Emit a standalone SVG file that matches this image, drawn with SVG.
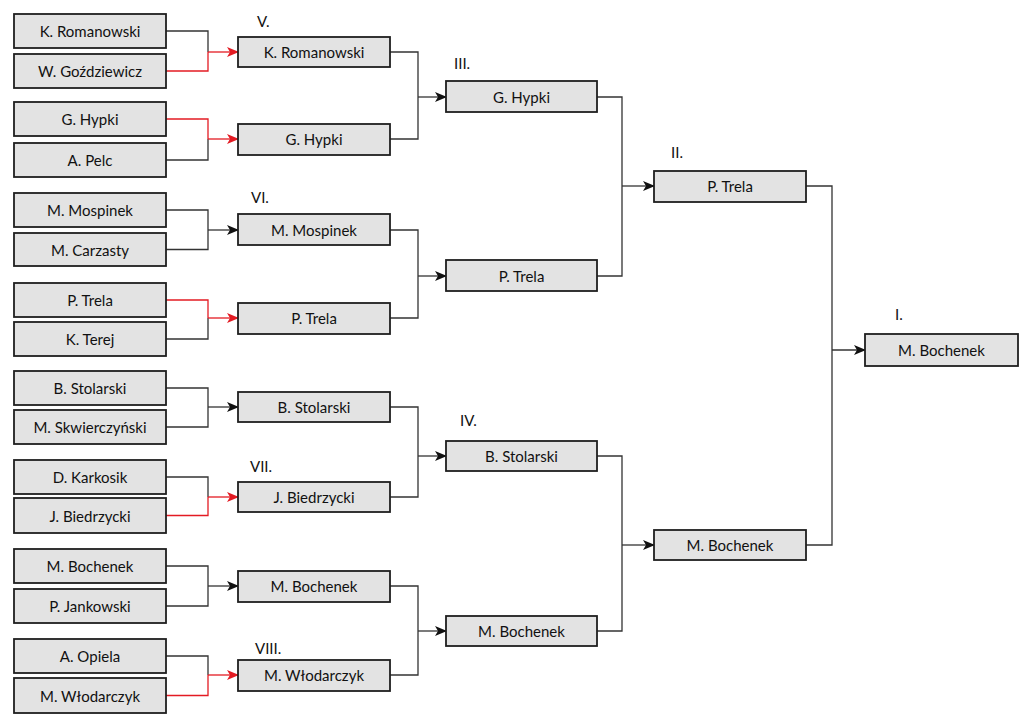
<svg xmlns="http://www.w3.org/2000/svg" width="1019" height="714" viewBox="0 0 1019 714">
<style>
.box rect{fill:#e3e3e3;stroke:#1e1e1e;stroke-width:1.8}
.box text{font-family:Lato,"Liberation Sans",Arial,sans-serif;font-size:15px;fill:#111;text-anchor:middle;dominant-baseline:central}
.lbl{font-family:Lato,"Liberation Sans",Arial,sans-serif;font-size:15px;fill:#111}
.c{fill:none;stroke:#333;stroke-width:1.3}
.r{fill:none;stroke:#e31b23;stroke-width:1.3}
.a{marker-end:url(#ab)}
.ar{marker-end:url(#ar)}
</style>
<defs>
<marker id="ab" markerWidth="12" markerHeight="10" refX="11" refY="5" orient="auto" markerUnits="userSpaceOnUse"><path d="M0,0 L12,5 L0,10 L3,5 z" fill="#111"/></marker>
<marker id="ar" markerWidth="12" markerHeight="10" refX="11" refY="5" orient="auto" markerUnits="userSpaceOnUse"><path d="M0,0 L12,5 L0,10 L3,5 z" fill="#e31b23"/></marker>
</defs>
<rect width="1019" height="714" fill="#fff"/>
<g id="connectors">
<path class="c" d="M166,31 H208 V52"/><path class="r" d="M166,71 H208 V52"/><path class="r ar" d="M208,52 H238"/>
<path class="r" d="M166,119 H208 V139"/><path class="c" d="M166,160 H208 V139"/><path class="r ar" d="M208,139 H238"/>
<path class="c" d="M166,210 H208 V249.5 H166"/><path class="c a" d="M208,230 H238"/>
<path class="r" d="M166,300 H208 V318"/><path class="c" d="M166,339 H208 V318"/><path class="r ar" d="M208,318 H238"/>
<path class="c" d="M166,388 H208 V427 H166"/><path class="c a" d="M208,407 H238"/>
<path class="c" d="M166,477 H208 V497"/><path class="r" d="M166,515.5 H208 V497"/><path class="r ar" d="M208,497 H238"/>
<path class="c" d="M166,566 H208 V606 H166"/><path class="c a" d="M208,586 H238"/>
<path class="c" d="M166,656 H208 V675"/><path class="r" d="M166,695.5 H208 V675"/><path class="r ar" d="M208,675 H238"/>
<path class="c" d="M390,52 H418 V139 H390"/><path class="c a" d="M418,97 H446"/>
<path class="c" d="M390,230 H418 V318 H390"/><path class="c a" d="M418,276 H446"/>
<path class="c" d="M390,407 H418 V497 H390"/><path class="c a" d="M418,456 H446"/>
<path class="c" d="M390,586 H418 V675 H390"/><path class="c a" d="M418,631 H446"/>
<path class="c" d="M597,97 H622 V276 H597"/><path class="c a" d="M622,186 H654"/>
<path class="c" d="M597,456 H622 V631 H597"/><path class="c a" d="M622,545 H654"/>
<path class="c" d="M806,186 H832 V545 H806"/><path class="c a" d="M832,350 H865"/>
</g>
<g id="r1-1" class="box"><rect x="14" y="14" width="152" height="34"/><text x="90" y="31">K. Romanowski</text></g>
<g id="r1-2" class="box"><rect x="14" y="54" width="152" height="34"/><text x="90" y="71">W. Goździewicz</text></g>
<g id="r1-3" class="box"><rect x="14" y="102" width="152" height="34"/><text x="90" y="119">G. Hypki</text></g>
<g id="r1-4" class="box"><rect x="14" y="143" width="152" height="34"/><text x="90" y="160">A. Pelc</text></g>
<g id="r1-5" class="box"><rect x="14" y="193" width="152" height="34"/><text x="90" y="210">M. Mospinek</text></g>
<g id="r1-6" class="box"><rect x="14" y="233" width="152" height="33"/><text x="90" y="249.5">M. Carzasty</text></g>
<g id="r1-7" class="box"><rect x="14" y="283" width="152" height="34"/><text x="90" y="300">P. Trela</text></g>
<g id="r1-8" class="box"><rect x="14" y="322" width="152" height="34"/><text x="90" y="339">K. Terej</text></g>
<g id="r1-9" class="box"><rect x="14" y="371" width="152" height="34"/><text x="90" y="388">B. Stolarski</text></g>
<g id="r1-10" class="box"><rect x="14" y="410" width="152" height="34"/><text x="90" y="427">M. Skwierczyński</text></g>
<g id="r1-11" class="box"><rect x="14" y="460" width="152" height="34"/><text x="90" y="477">D. Karkosik</text></g>
<g id="r1-12" class="box"><rect x="14" y="498" width="152" height="35"/><text x="90" y="515.5">J. Biedrzycki</text></g>
<g id="r1-13" class="box"><rect x="14" y="549" width="152" height="34"/><text x="90" y="566">M. Bochenek</text></g>
<g id="r1-14" class="box"><rect x="14" y="589" width="152" height="34"/><text x="90" y="606">P. Jankowski</text></g>
<g id="r1-15" class="box"><rect x="14" y="639" width="152" height="34"/><text x="90" y="656">A. Opiela</text></g>
<g id="r1-16" class="box"><rect x="14" y="678" width="152" height="35"/><text x="90" y="695.5">M. Włodarczyk</text></g>
<g id="r2-1" class="box"><rect x="238" y="37" width="152" height="30"/><text x="314" y="52">K. Romanowski</text></g>
<g id="r2-2" class="box"><rect x="238" y="124" width="152" height="31"/><text x="314" y="139">G. Hypki</text></g>
<g id="r2-3" class="box"><rect x="238" y="214" width="152" height="31"/><text x="314" y="230">M. Mospinek</text></g>
<g id="r2-4" class="box"><rect x="238" y="303" width="152" height="31"/><text x="314" y="318">P. Trela</text></g>
<g id="r2-5" class="box"><rect x="238" y="392" width="152" height="30"/><text x="314" y="407">B. Stolarski</text></g>
<g id="r2-6" class="box"><rect x="238" y="482" width="152" height="30"/><text x="314" y="497">J. Biedrzycki</text></g>
<g id="r2-7" class="box"><rect x="238" y="571" width="152" height="31"/><text x="314" y="586">M. Bochenek</text></g>
<g id="r2-8" class="box"><rect x="238" y="660" width="152" height="31"/><text x="314" y="675">M. Włodarczyk</text></g>
<g id="r3-1" class="box"><rect x="446" y="81" width="151" height="31"/><text x="521.5" y="97">G. Hypki</text></g>
<g id="r3-2" class="box"><rect x="446" y="260" width="151" height="31"/><text x="521.5" y="276">P. Trela</text></g>
<g id="r3-3" class="box"><rect x="446" y="441" width="151" height="30"/><text x="521.5" y="456">B. Stolarski</text></g>
<g id="r3-4" class="box"><rect x="446" y="616" width="151" height="30"/><text x="521.5" y="631">M. Bochenek</text></g>
<g id="r4-1" class="box"><rect x="654" y="171" width="152" height="31"/><text x="730" y="186">P. Trela</text></g>
<g id="r4-2" class="box"><rect x="654" y="530" width="152" height="30"/><text x="730" y="545">M. Bochenek</text></g>
<g id="r5-1" class="box"><rect x="865" y="334" width="153" height="32"/><text x="941.5" y="350">M. Bochenek</text></g>
<g id="labels">
<text class="lbl" x="257" y="27">V.</text>
<text class="lbl" x="454" y="69">III.</text>
<text class="lbl" x="671" y="158">II.</text>
<text class="lbl" x="251" y="203">VI.</text>
<text class="lbl" x="895" y="320">I.</text>
<text class="lbl" x="460" y="426">IV.</text>
<text class="lbl" x="250" y="472">VII.</text>
<text class="lbl" x="255" y="654">VIII.</text>
</g>
</svg>
